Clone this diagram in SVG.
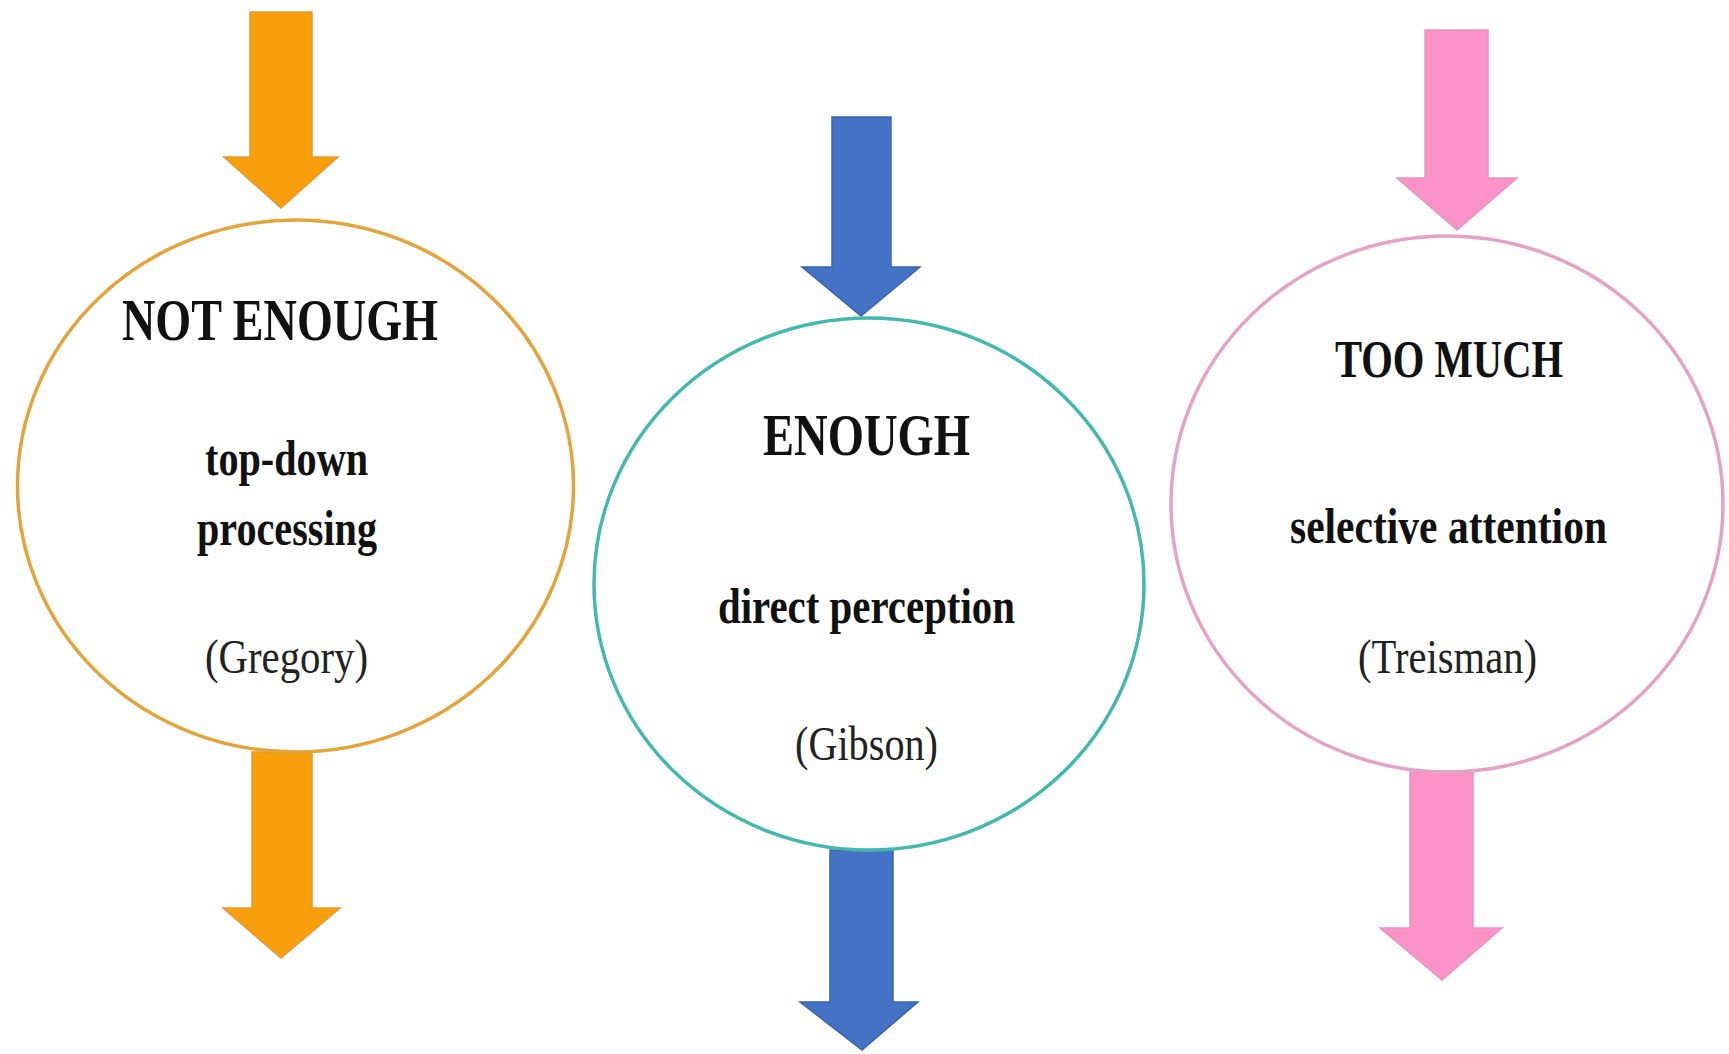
<svg xmlns="http://www.w3.org/2000/svg" width="1729" height="1054" viewBox="0 0 1729 1054">
<style>
  text { font-family: "Liberation Serif", "Times New Roman", serif; fill: #111; text-anchor: middle; }
  .title { font-weight: bold; font-size: 60px; }
  .body { font-weight: bold; font-size: 50px; }
  .cite { font-weight: normal; font-size: 48px; fill: #222; }
  .node { fill: #ffffff; stroke-width: 3.5; }
  .a-orange { fill: #FA9F0C; stroke: #E09A35; stroke-width: 1.5; }
  .a-blue { fill: #4472C4; stroke: #3A64AE; stroke-width: 1.5; }
  .a-pink { fill: #FC93C8; stroke: #E496BE; stroke-width: 1.5; }
</style>
<rect x="0" y="0" width="1729" height="1054" fill="#ffffff"/>
<g id="connectors">
  <path class="a-orange" d="M250,12 H312 V157 H338 L281,208 L224,157 H250 Z"/>
  <path class="a-orange" d="M252,752 H312 V908 H340 L281,958 L223,908 H252 Z"/>
  <path class="a-blue" d="M832,117 H891 V267 H920 L861,316 L802,267 H832 Z"/>
  <path class="a-blue" d="M830,850 H893 V1002 H918 L862,1050 L800,1002 H830 Z"/>
  <path class="a-pink" d="M1425,30 H1488 V178 H1517 L1457,230 L1397,178 H1425 Z"/>
  <path class="a-pink" d="M1410,772 H1473 V928 H1502 L1442,980 L1380,928 H1410 Z"/>
</g>
<g id="node-not-enough">
  <ellipse class="node" cx="295.5" cy="486" rx="278" ry="266" stroke="#E3A43C"/>
  <text class="title" x="280" y="340" textLength="316" lengthAdjust="spacingAndGlyphs">NOT ENOUGH</text>
  <text class="body" x="286.5" y="475" textLength="163" lengthAdjust="spacingAndGlyphs">top-down</text>
  <text class="body" x="287" y="545" textLength="180" lengthAdjust="spacingAndGlyphs">processing</text>
  <text class="cite" x="286.5" y="673" textLength="163" lengthAdjust="spacingAndGlyphs">(Gregory)</text>
</g>
<g id="node-enough">
  <ellipse class="node" cx="869" cy="584" rx="275" ry="266" stroke="#45B8AE"/>
  <text class="title" x="866.5" y="455" textLength="207" lengthAdjust="spacingAndGlyphs">ENOUGH</text>
  <text class="body" x="866.5" y="623" textLength="297" lengthAdjust="spacingAndGlyphs">direct perception</text>
  <text class="cite" x="866.5" y="760" textLength="143" lengthAdjust="spacingAndGlyphs">(Gibson)</text>
</g>
<g id="node-too-much">
  <ellipse class="node" cx="1447" cy="504" rx="276" ry="268" stroke="#E4A2C6"/>
  <text class="title" x="1449" y="377" style="font-size:53px" textLength="228" lengthAdjust="spacingAndGlyphs">TOO MUCH</text>
  <text class="body" x="1448.5" y="543" textLength="317" lengthAdjust="spacingAndGlyphs">selective attention</text>
  <text class="cite" x="1447.5" y="673" textLength="179" lengthAdjust="spacingAndGlyphs">(Treisman)</text>
</g>
</svg>
